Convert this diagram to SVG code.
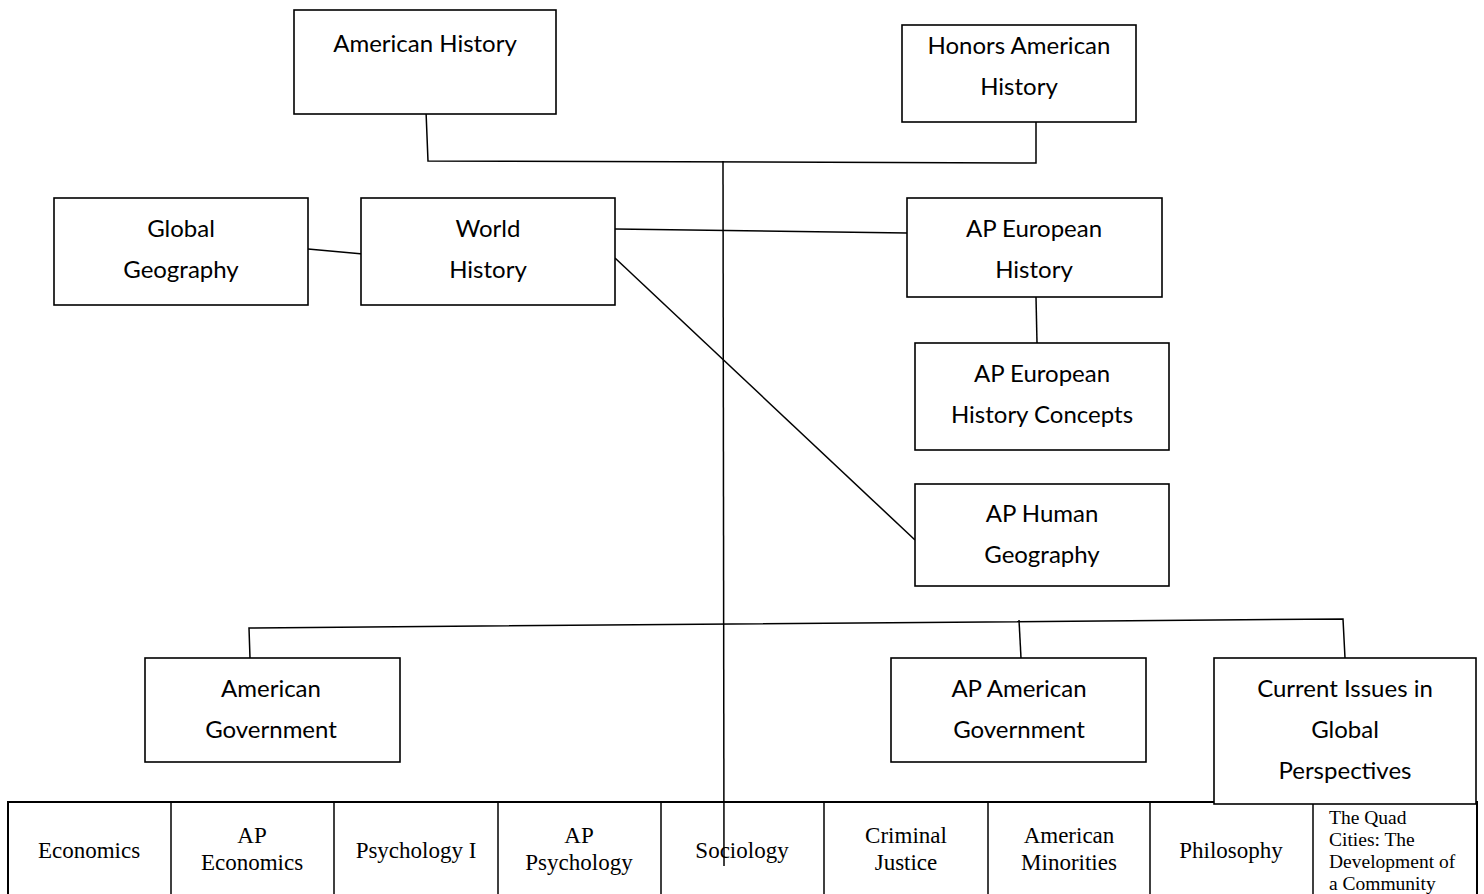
<svg xmlns="http://www.w3.org/2000/svg" width="1484" height="894" viewBox="0 0 1484 894">
<style>
.box{fill:#fff;stroke:#000;stroke-width:1.6}
.bt{font-family:Lato,"Open Sans",sans-serif;font-size:24px;fill:#000;text-anchor:middle}
.ln{fill:none;stroke:#000;stroke-width:1.5}
.cell{fill:#fff;stroke:#000;stroke-width:2}
.tt{font-family:"Liberation Serif","Times New Roman",serif;font-size:23px;fill:#000;text-anchor:middle}
.qt{font-family:"Liberation Serif","Times New Roman",serif;font-size:19.5px;fill:#000}
</style>
<rect width="1484" height="894" fill="#fff"/>
<g id="connectors">
<polyline class="ln" points="426,111 428,161 1036,163 1036,122"/>
<line class="ln" x1="308" y1="249" x2="363" y2="254"/>
<line class="ln" x1="615" y1="229" x2="907" y2="233"/>
<line class="ln" x1="615" y1="258" x2="915" y2="540"/>
<line class="ln" x1="1036" y1="297" x2="1037" y2="343"/>
<polyline class="ln" points="250,658 249,628 1343,619 1345,658"/>
<line class="ln" x1="1019" y1="620" x2="1021" y2="658"/>
</g>
<g id="american-history"><rect class="box" x="294" y="10" width="262" height="104"/><text class="bt" x="425" y="52">American History</text></g>
<g id="honors-american-history"><rect class="box" x="902" y="25" width="234" height="97"/><text class="bt" x="1019" y="54">Honors American</text><text class="bt" x="1019" y="95">History</text></g>
<g id="global-geography"><rect class="box" x="54" y="198" width="254" height="107"/><text class="bt" x="181" y="237">Global</text><text class="bt" x="181" y="278">Geography</text></g>
<g id="world-history"><rect class="box" x="361" y="198" width="254" height="107"/><text class="bt" x="488" y="237">World</text><text class="bt" x="488" y="278">History</text></g>
<g id="ap-european-history"><rect class="box" x="907" y="198" width="255" height="99"/><text class="bt" x="1034" y="237">AP European</text><text class="bt" x="1034" y="278">History</text></g>
<g id="ap-european-history-concepts"><rect class="box" x="915" y="343" width="254" height="107"/><text class="bt" x="1042" y="382">AP European</text><text class="bt" x="1042" y="423">History Concepts</text></g>
<g id="ap-human-geography"><rect class="box" x="915" y="484" width="254" height="102"/><text class="bt" x="1042" y="522">AP Human</text><text class="bt" x="1042" y="563">Geography</text></g>
<g id="american-government"><rect class="box" x="145" y="658" width="255" height="104"/><text class="bt" x="271" y="697">American</text><text class="bt" x="271" y="738">Government</text></g>
<g id="ap-american-government"><rect class="box" x="891" y="658" width="255" height="104"/><text class="bt" x="1019" y="697">AP American</text><text class="bt" x="1019" y="738">Government</text></g>
<g id="table">
<rect class="cell" x="8" y="802" width="1469" height="100"/>
<line class="ln" x1="171" y1="802" x2="171" y2="894" stroke-width="2"/>
<line class="ln" x1="334" y1="802" x2="334" y2="894" stroke-width="2"/>
<line class="ln" x1="498" y1="802" x2="498" y2="894" stroke-width="2"/>
<line class="ln" x1="661" y1="802" x2="661" y2="894" stroke-width="2"/>
<line class="ln" x1="824" y1="802" x2="824" y2="894" stroke-width="2"/>
<line class="ln" x1="988" y1="802" x2="988" y2="894" stroke-width="2"/>
<line class="ln" x1="1150" y1="802" x2="1150" y2="894" stroke-width="2"/>
<line class="ln" x1="1313" y1="802" x2="1313" y2="894" stroke-width="2"/>
</g>
<g id="cell-economics"><text class="tt" x="89" y="858">Economics</text></g>
<g id="cell-ap-economics"><text class="tt" x="252" y="843">AP</text><text class="tt" x="252" y="870">Economics</text></g>
<g id="cell-psychology-i"><text class="tt" x="416" y="858">Psychology I</text></g>
<g id="cell-ap-psychology"><text class="tt" x="579" y="843">AP</text><text class="tt" x="579" y="870">Psychology</text></g>
<g id="cell-sociology"><text class="tt" x="742" y="858">Sociology</text></g>
<g id="cell-criminal-justice"><text class="tt" x="906" y="843">Criminal</text><text class="tt" x="906" y="870">Justice</text></g>
<g id="cell-american-minorities"><text class="tt" x="1069" y="843">American</text><text class="tt" x="1069" y="870">Minorities</text></g>
<g id="cell-philosophy"><text class="tt" x="1231" y="858">Philosophy</text></g>
<g id="cell-quad-cities"><text class="qt" x="1329" y="824">The Quad</text><text class="qt" x="1329" y="846">Cities: The</text><text class="qt" x="1329" y="868">Development of</text><text class="qt" x="1329" y="890">a Community</text></g>
<g id="current-issues"><rect class="box" x="1214" y="658" width="262" height="146"/><text class="bt" x="1345" y="697">Current Issues in</text><text class="bt" x="1345" y="738">Global</text><text class="bt" x="1345" y="779">Perspectives</text></g>
<g id="spine"><line class="ln" x1="723" y1="161" x2="724" y2="866"/></g>
</svg>
